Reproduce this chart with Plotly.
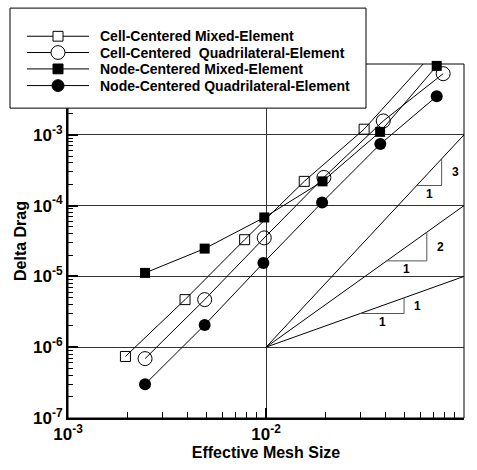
import plotly.graph_objects as go
import numpy as np

# ---------------- data ----------------
cc_mixed_x = [0.00195, 0.0039, 0.0078, 0.0156, 0.0313, 0.0622]
cc_mixed_y = [7.4e-7, 4.7e-6, 3.3e-5, 2.2e-4, 1.2e-3, 1.0e-2]
cc_quad_x = [0.00245, 0.0049, 0.0098, 0.0196, 0.0391, 0.0785]
cc_quad_y = [6.9e-7, 4.7e-6, 3.5e-5, 2.5e-4, 1.57e-3, 7.3e-3]
nc_mixed_x = [0.00245, 0.0049, 0.0098, 0.0193, 0.0377, 0.0728]
nc_mixed_y = [1.12e-5, 2.47e-5, 6.8e-5, 2.2e-4, 1.1e-3, 9.4e-3]
nc_quad_x = [0.00245, 0.0049, 0.0097, 0.0192, 0.0378, 0.0728]
nc_quad_y = [3.0e-7, 2.06e-6, 1.55e-5, 1.11e-4, 7.4e-4, 3.5e-3]

series_names = ["Cell-Centered Mixed-Element",
                "Cell-Centered\u00a0\u00a0Quadrilateral-Element",
                "Node-Centered Mixed-Element",
                "Node-Centered Quadrilateral-Element"]

# slope reference lines (order of accuracy)
slope_orders = [1, 2, 3]
slope_x0, slope_y0, slope_x1 = 0.01, 1e-6, 0.1
# slope triangles: (x_left, x_right) on each reference line
tri_x = {1: (0.0299, 0.0498), 2: (0.0407, 0.0649), 3: (0.0577, 0.0771)}

x_ticks = [1e-3, 1e-2, 1e-1]
x_ticktext = ["10<sup>-3</sup>", "10<sup>-2</sup>", "10<sup>-1</sup>"]
y_ticks = [1e-7, 1e-6, 1e-5, 1e-4, 1e-3]
y_ticktext = ["10<sup>-7</sup>", "10<sup>-6</sup>", "10<sup>-5</sup>", "10<sup>-4</sup>", "10<sup>-3</sup>"]

# ---------------- figure ----------------
W, H = 477, 470
ML, MR, MT, MB = 68, 13, 64, 45
PW, PH = W - ML - MR, H - MT - MB


def px(x):
    return (x - ML) / PW


def py(y):
    return (H - MB - y) / PH


fig = go.Figure()

lab_font = dict(family="Liberation Sans, Arial", size=12, color="black", weight="bold")

# reference slope lines
for p in slope_orders:
    fig.add_trace(go.Scatter(
        x=[slope_x0, slope_x1], y=[slope_y0, slope_y0 * (slope_x1 / slope_x0) ** p],
        mode="lines", line=dict(color="black", width=1), showlegend=False, hoverinfo="skip"))
    xa, xb = tri_x[p]
    ya = slope_y0 * (xa / slope_x0) ** p
    yb = slope_y0 * (xb / slope_x0) ** p
    fig.add_trace(go.Scatter(
        x=[xa, xb, xb], y=[ya, ya, yb], mode="lines",
        line=dict(color="#555555", width=1), showlegend=False, hoverinfo="skip"))
    # labels
    fig.add_annotation(x=np.log10(xb) + 0.04, y=(np.log10(ya) + np.log10(yb)) / 2,
                       text="%d" % p, showarrow=False, font=lab_font,
                       xanchor="left", yanchor="middle")
    fig.add_annotation(x=(np.log10(xa) + np.log10(xb)) / 2, y=np.log10(ya) - 0.12,
                       text="1", showarrow=False, font=lab_font,
                       xanchor="center", yanchor="middle")

styles = [
    dict(symbol="square-open", size=10, color="black", line=dict(width=1, color="black")),
    dict(symbol="circle-open", size=14, color="black", line=dict(width=1, color="black")),
    dict(symbol="square", size=10, color="black"),
    dict(symbol="circle", size=12, color="black"),
]
datasets = [(cc_mixed_x, cc_mixed_y), (cc_quad_x, cc_quad_y),
            (nc_mixed_x, nc_mixed_y), (nc_quad_x, nc_quad_y)]
for (xs, ys), st, nm in zip(datasets, styles, series_names):
    fig.add_trace(go.Scatter(x=xs, y=ys, mode="lines+markers", name=nm,
                             line=dict(color="black", width=1), marker=st,
                             cliponaxis=False, showlegend=False))

shapes = []
# thin frame (top/right)
shapes.append(dict(type="rect", xref="paper", yref="paper", x0=0, x1=1, y0=0, y1=1,
                   line=dict(color="black", width=1), layer="above"))
# legend box
shapes.append(dict(type="rect", xref="paper", yref="paper", x0=px(10), x1=px(366),
                   y0=py(109), y1=py(7), fillcolor="white",
                   line=dict(color="black", width=1), layer="above"))
rows = [35.7, 52.3, 69, 86]
leg_font = dict(family="Liberation Sans, Arial", size=14, color="black", weight="bold")
for r, st, nm in zip(rows, styles, series_names):
    shapes.append(dict(type="line", xref="paper", yref="paper", x0=px(27), x1=px(89),
                       y0=py(r), y1=py(r), line=dict(color="black", width=1), layer="above"))
    s = st["size"] / 2.0
    typ = "rect" if st["symbol"].startswith("square") else "circle"
    filled = not st["symbol"].endswith("open")
    shapes.append(dict(type=typ, xref="paper", yref="paper",
                       x0=px(58 - s), x1=px(58 + s), y0=py(r + s), y1=py(r - s),
                       fillcolor="black" if filled else "white",
                       line=dict(color="black", width=1), layer="above"))
    fig.add_annotation(xref="paper", yref="paper", x=px(98), y=py(r),
                       text=nm, showarrow=False, xanchor="left", yanchor="middle",
                       font=leg_font)

minor_vals = [m * 10.0 ** e for e in range(-8, 0) for m in range(2, 10)]

axis_font = dict(family="Liberation Sans, Arial", size=17, color="black", weight="bold")
title_font = dict(family="Liberation Sans, Arial", size=16, color="black", weight="bold")

fig.update_layout(
    width=W, height=H, margin=dict(l=ML, r=MR, t=MT, b=MB),
    paper_bgcolor="white", plot_bgcolor="white", showlegend=False,
    shapes=shapes,
    xaxis=dict(type="log", range=[-3, -1], tickvals=x_ticks, ticktext=x_ticktext,
               ticks="inside", ticklen=10, tickwidth=1.5, tickcolor="black",
               showline=True, linewidth=2, linecolor="black", mirror=False,
               showgrid=True, gridcolor="#333333", gridwidth=1,
               tickfont=axis_font, zeroline=False,
               minor=dict(tickvals=minor_vals, ticks="inside", ticklen=6, tickwidth=1,
                          tickcolor="black", showgrid=False),
               title=dict(text="Effective Mesh Size", font=title_font, standoff=2)),
    yaxis=dict(type="log", range=[-7, -2], tickvals=y_ticks, ticktext=y_ticktext,
               ticks="inside", ticklen=10, tickwidth=1.5, tickcolor="black",
               showline=True, linewidth=2, linecolor="black", mirror=False,
               showgrid=True, gridcolor="#333333", gridwidth=1,
               tickfont=axis_font, zeroline=False,
               minor=dict(tickvals=minor_vals, ticks="inside", ticklen=5, tickwidth=1,
                          tickcolor="black", showgrid=False),
               title=dict(text="Delta Drag", font=title_font, standoff=2)),
)

fig.write_html("out.html")
